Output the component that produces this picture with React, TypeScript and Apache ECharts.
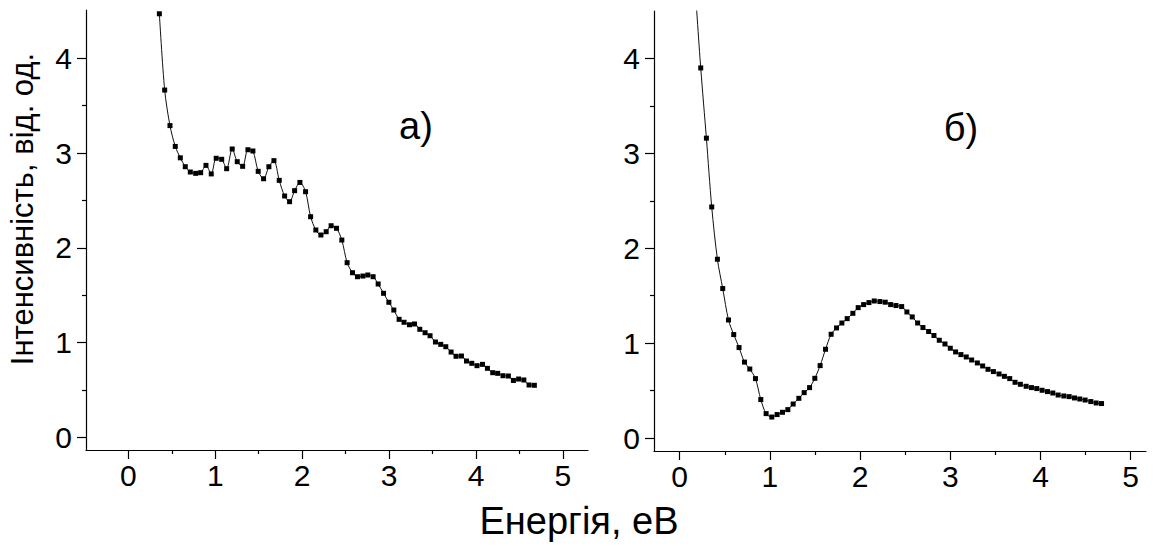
import React, { useEffect, useRef } from "react";
import * as echarts from "echarts";

// Panel a): energy (eV) and intensity (arb. units)
const energyA = [
  0.357, 0.418, 0.479, 0.54, 0.598, 0.655, 0.713, 0.775, 0.832, 0.893, 0.954, 1.011, 1.074, 1.131, 1.195,
  1.253, 1.315, 1.376, 1.433, 1.494, 1.556, 1.617, 1.675, 1.736, 1.798, 1.855, 1.913, 1.974, 2.039, 2.097,
  2.157, 2.215, 2.276, 2.333, 2.395, 2.456, 2.517, 2.579, 2.636, 2.698, 2.755, 2.816, 2.874, 2.936, 2.997,
  3.054, 3.115, 3.172, 3.234, 3.292, 3.353, 3.414, 3.471, 3.533, 3.594, 3.652, 3.713, 3.77, 3.832, 3.89,
  3.951, 4.011, 4.074, 4.131, 4.192, 4.249, 4.31, 4.372, 4.43, 4.49, 4.55, 4.61, 4.671,
];
const intensityA = [
  4.47, 3.665, 3.29, 3.07, 2.95, 2.856, 2.8, 2.786, 2.793, 2.87, 2.78, 2.945, 2.934, 2.835, 3.043,
  2.909, 2.86, 3.035, 3.022, 2.807, 2.729, 2.856, 2.92, 2.712, 2.547, 2.487, 2.603, 2.69, 2.592, 2.328,
  2.188, 2.135, 2.17, 2.233, 2.206, 2.082, 1.843, 1.737, 1.695, 1.702, 1.713, 1.695, 1.618, 1.52, 1.425,
  1.343, 1.245, 1.214, 1.188, 1.196, 1.14, 1.104, 1.072, 1.006, 0.981, 0.956, 0.9, 0.855, 0.858, 0.805,
  0.781, 0.756, 0.77, 0.728, 0.682, 0.675, 0.65, 0.647, 0.6, 0.615, 0.605, 0.552, 0.549,
];

// Panel б)
const energyB = [
  0.17, 0.233, 0.296, 0.355, 0.418, 0.477, 0.541, 0.599, 0.658, 0.718, 0.777, 0.84, 0.899, 0.958, 1.021,
  1.08, 1.14, 1.199, 1.258, 1.321, 1.38, 1.44, 1.498, 1.557, 1.617, 1.679, 1.739, 1.798, 1.857, 1.92,
  1.979, 2.039, 2.098, 2.157, 2.22, 2.279, 2.339, 2.398, 2.461, 2.519, 2.578, 2.638, 2.697, 2.76, 2.819,
  2.878, 2.941, 3.0, 3.059, 3.118, 3.177, 3.237, 3.3, 3.359, 3.418, 3.478, 3.541, 3.6, 3.659, 3.718,
  3.777, 3.841, 3.9, 3.959, 4.018, 4.078, 4.137, 4.196, 4.259, 4.318, 4.377, 4.436, 4.495, 4.558, 4.617,
  4.677,
];
const intensityB = [
  4.76, 3.9, 3.16, 2.435, 1.884, 1.575, 1.244, 1.09, 0.953, 0.8, 0.727, 0.626, 0.405, 0.257, 0.221,
  0.247, 0.271, 0.299, 0.358, 0.418, 0.478, 0.531, 0.629, 0.763, 0.935, 1.093, 1.16, 1.212, 1.258, 1.314,
  1.374, 1.406, 1.427, 1.444, 1.438, 1.431, 1.406, 1.396, 1.385, 1.328, 1.276, 1.212, 1.164, 1.122, 1.08,
  1.03, 0.991, 0.946, 0.907, 0.879, 0.854, 0.822, 0.791, 0.759, 0.724, 0.7, 0.675, 0.65, 0.626, 0.587,
  0.566, 0.545, 0.531, 0.521, 0.503, 0.489, 0.474, 0.453, 0.443, 0.436, 0.422, 0.411, 0.4, 0.384, 0.369,
  0.363,
];

const xMajorTicks = [0, 1, 2, 3, 4, 5];
const xMinorTicks = [0.5, 1.5, 2.5, 3.5, 4.5];
const yMajorTicks = [0, 1, 2, 3, 4];
const yMinorTicks = [0.5, 1.5, 2.5, 3.5];

const xAxisTitle = "Енергія, еВ";
const yAxisTitle = "Інтенсивність, від. од.";
const panelLabels = ["а)", "б)"];

const FONT = "'Liberation Sans', Arial, sans-serif";

export default function App() {
  const ref = useRef<HTMLDivElement>(null);

  useEffect(() => {
    if (!ref.current) return;
    const chart = echarts.init(ref.current, undefined, { renderer: "svg" });

    const tickStyle = { color: "#000", width: 1.2 };
    const axisLine = { show: true, onZero: false, lineStyle: { color: "#000", width: 1.2 } };
    const labelStyle = { color: "#000", fontSize: 30, fontFamily: FONT };

    const mkX = (gridIndex: number, min: number, max: number) => [
      {
        type: "value",
        gridIndex,
        min,
        max,
        axisLine,
        splitLine: { show: false },
        axisTick: { show: true, length: 9, customValues: xMajorTicks, lineStyle: tickStyle },
        axisLabel: { customValues: xMajorTicks, margin: 10, ...labelStyle },
      },
      {
        type: "value",
        gridIndex,
        position: "bottom",
        min,
        max,
        axisLine: { show: false, onZero: false },
        splitLine: { show: false },
        axisTick: { show: true, length: 4, customValues: xMinorTicks, lineStyle: tickStyle },
        axisLabel: { show: false },
      },
    ];
    const mkY = (gridIndex: number, min: number, max: number) => [
      {
        type: "value",
        gridIndex,
        min,
        max,
        axisLine,
        splitLine: { show: false },
        axisTick: { show: true, length: 9, customValues: yMajorTicks, lineStyle: tickStyle },
        axisLabel: { customValues: yMajorTicks, margin: 14, ...labelStyle },
      },
      {
        type: "value",
        gridIndex,
        position: "left",
        min,
        max,
        axisLine: { show: false, onZero: false },
        splitLine: { show: false },
        axisTick: { show: true, length: 4, customValues: yMinorTicks, lineStyle: tickStyle },
        axisLabel: { show: false },
      },
    ];

    const mkSeries = (axisIdx: number, xs: number[], ys: number[]) => ({
      type: "line",
      xAxisIndex: axisIdx,
      yAxisIndex: axisIdx,
      data: xs.map((x, i) => [x, ys[i]]),
      smooth: 0.3,
      symbol: "rect",
      symbolSize: 5,
      showAllSymbol: true,
      clip: true,
      lineStyle: { color: "#111", width: 1 },
      itemStyle: { color: "#000" },
    });

    const text = (t: string, x: number, y: number, size: number, rotation = 0) => ({
      type: "text",
      x,
      y,
      rotation,
      style: {
        text: t,
        fontSize: size,
        fontFamily: FONT,
        fill: "#000",
        align: "center",
        verticalAlign: "middle",
      },
    });

    chart.setOption({
      animation: false,
      backgroundColor: "#fff",
      grid: [
        { left: 86, top: 10, width: 502, height: 440 },
        { left: 654, top: 11, width: 492, height: 440 },
      ],
      xAxis: [...mkX(0, -0.487, 5.288), ...mkX(1, -0.285, 5.17)],
      yAxis: [...mkY(0, -0.134, 4.51), ...mkY(1, -0.137, 4.5)],
      series: [mkSeries(0, energyA, intensityA), mkSeries(2, energyB, intensityB)],
      graphic: [
        text(yAxisTitle, 22, 209, 31, Math.PI / 2),
        text(xAxisTitle, 579, 521, 38),
        text(panelLabels[0], 416, 126, 38),
        text(panelLabels[1], 961, 128, 38),
      ],
    });

    return () => chart.dispose();
  }, []);

  return (
    <div
      ref={ref}
      style={{ position: "absolute", left: 0, top: 0, width: 1154, height: 546, background: "#fff" }}
    />
  );
}
